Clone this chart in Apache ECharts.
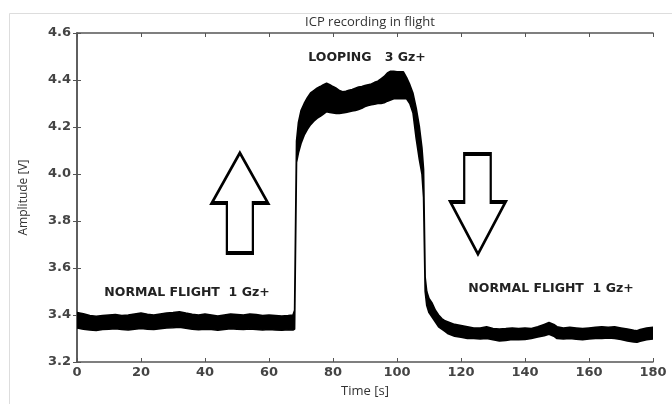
<!DOCTYPE html>
<html><head><meta charset="utf-8">
<script src="https://cdn.jsdelivr.net/npm/echarts@6/dist/echarts.min.js"></script>
<style>html,body{margin:0;padding:0;background:#fff}#c{width:672px;height:404px}</style>
</head><body><div id="c"></div>
<script>
// Time [s]
const timeS = [0,2,4,6,8,10,12,14,16,18,20,22,24,26,28,30,32,34,36,38,40,42,44,46,48,50,52,54,56,58,60,62,64,66,67.5,68,
68.6,69.2,70,71,72,73,74,75,76,77,78,79,80,81,82,83,84,85,86,87,88,89,90,91,92,93,94,95,96,97,98,99,100,101,102,103,104,105,106,107,107.8,108.3,
108.8,109.3,110,111,112,113,114,115,116,118,120,122,124,126,128,130,132,134,136,138,140,142,144,146,147.5,149,150,152,154,156,158,160,162,164,166,168,170,172,174,175,176,178,180];
// upper edge of the recorded band [V]
const upperV = [3.41,3.405,3.398,3.395,3.398,3.400,3.402,3.398,3.400,3.404,3.408,3.403,3.400,3.404,3.408,3.410,3.414,3.408,3.403,3.400,3.404,3.400,3.396,3.400,3.404,3.402,3.400,3.404,3.402,3.398,3.400,3.398,3.396,3.398,3.400,3.42,
4.14,4.22,4.27,4.30,4.325,4.345,4.355,4.365,4.372,4.38,4.386,4.38,4.372,4.365,4.355,4.35,4.352,4.356,4.36,4.365,4.37,4.372,4.376,4.38,4.383,4.39,4.395,4.405,4.415,4.43,4.437,4.437,4.435,4.435,4.435,4.41,4.38,4.343,4.28,4.20,4.11,4.02,
3.56,3.50,3.47,3.45,3.42,3.40,3.385,3.375,3.37,3.36,3.355,3.35,3.345,3.345,3.35,3.342,3.34,3.342,3.345,3.342,3.345,3.342,3.35,3.36,3.368,3.36,3.35,3.345,3.348,3.345,3.342,3.345,3.348,3.35,3.348,3.35,3.345,3.34,3.335,3.333,3.338,3.345,3.348];
// lower edge of the recorded band [V]
const lowerV = [3.345,3.340,3.336,3.334,3.338,3.340,3.342,3.338,3.336,3.340,3.343,3.340,3.338,3.342,3.345,3.346,3.348,3.344,3.340,3.337,3.340,3.338,3.335,3.338,3.342,3.340,3.338,3.341,3.338,3.336,3.338,3.336,3.335,3.337,3.336,3.34,
4.05,4.09,4.13,4.165,4.19,4.21,4.225,4.237,4.245,4.255,4.265,4.262,4.26,4.258,4.258,4.26,4.262,4.265,4.268,4.27,4.275,4.28,4.287,4.292,4.295,4.297,4.30,4.30,4.303,4.31,4.315,4.32,4.32,4.32,4.32,4.32,4.30,4.26,4.15,4.06,4.00,3.90,
3.50,3.44,3.41,3.39,3.37,3.35,3.34,3.33,3.32,3.31,3.305,3.30,3.30,3.298,3.30,3.295,3.29,3.292,3.296,3.295,3.296,3.30,3.306,3.312,3.318,3.31,3.30,3.298,3.30,3.297,3.295,3.298,3.30,3.30,3.302,3.30,3.296,3.29,3.285,3.284,3.288,3.295,3.298];
const xTicks = [0,20,40,60,80,100,120,140,160,180];
const yTicks = [3.2,3.4,3.6,3.8,4.0,4.2,4.4,4.6];

const bandData = timeS.map((t,i)=>[t, lowerV[i], upperV[i]]);

const upArrow = 'path://M28 0 L56 50 L41 50 L41 100 L15 100 L15 50 L0 50 Z';
const downArrow = 'path://M14 0 L41 0 L41 48 L56 48 L28 100 L0 48 L14 48 Z';

const axisCol = '#555';
const tickFont = {fontFamily:'DejaVu Sans', fontSize:13, fontWeight:'bold', color:'#444'};
const noteFont = {fontFamily:'DejaVu Sans', fontWeight:'bold', fontSize:12.5, fill:'#222', textAlign:'center', textVerticalAlign:'middle'};
const chart = echarts.init(document.getElementById('c'), null, {renderer:'canvas'});
chart.setOption({
  animation:false,
  backgroundColor:'#fff',
  grid:{left:77, right:19, top:33, bottom:42},
  title:{text:'ICP recording in flight', left:365, top:11, textAlign:'center',
    textStyle:{fontFamily:'Open Sans', fontSize:13, fontWeight:'normal', color:'#333'}},
  xAxis:[{type:'value', min:0, max:180, interval:20, position:'bottom',
    name:'Time [s]', nameLocation:'middle', nameGap:23,
    nameTextStyle:{fontFamily:'Open Sans', fontSize:13, color:'#333'},
    axisLine:{lineStyle:{color:axisCol, width:1.5}},
    axisTick:{inside:true, length:4, lineStyle:{color:axisCol}},
    axisLabel:Object.assign({margin:4, formatter:v=>String(v)}, tickFont),
    splitLine:{show:false}},
   {type:'value', min:0, max:180, interval:20, position:'top',
    axisLine:{lineStyle:{color:axisCol, width:1.5}},
    axisTick:{inside:true, length:4, lineStyle:{color:axisCol}},
    axisLabel:{show:false}, splitLine:{show:false}}],
  yAxis:[{type:'value', min:3.2, max:4.6, interval:0.2, position:'left',
    name:'Amplitude [V]', nameLocation:'middle', nameGap:47,
    nameTextStyle:{fontFamily:'Open Sans', fontSize:12, color:'#333'},
    axisLine:{show:true, lineStyle:{color:axisCol, width:1.5}},
    axisTick:{show:true, inside:true, length:4, lineStyle:{color:axisCol}},
    axisLabel:Object.assign({margin:6, formatter:v=>v.toFixed(1)}, tickFont),
    splitLine:{show:false}},
   {type:'value', min:3.2, max:4.6, interval:0.2, position:'right',
    axisLine:{show:true, lineStyle:{color:axisCol, width:1.5}},
    axisTick:{show:true, inside:true, length:4, lineStyle:{color:axisCol}},
    axisLabel:{show:false}, splitLine:{show:false}}],
  series:[
    {type:'custom', name:'ICP', data:bandData, silent:true, clip:true,
     encode:{x:0, y:[1,2]},
     renderItem:function(params, api){
       if (params.dataIndex !== 0) return null;
       const pts = [];
       for (let i=0;i<bandData.length;i++) pts.push(api.coord([bandData[i][0], bandData[i][2]]));
       for (let i=bandData.length-1;i>=0;i--) pts.push(api.coord([bandData[i][0], bandData[i][1]]));
       return {type:'polygon', shape:{points:pts},
         style:{fill:'#000', stroke:'#000', lineWidth:1.6, lineJoin:'round'}};
     }},
    {type:'scatter', name:'arrows', data:[], silent:true,
     markPoint:{silent:true, symbolKeepAspect:false,
       itemStyle:{color:'#fff', borderColor:'#000', borderWidth:3},
       label:{show:false},
       data:[{coord:[50.9,3.877], symbol:upArrow, symbolSize:[56,100]},
             {coord:[125.3,3.872], symbol:downArrow, symbolSize:[55,100]}]}}
  ],
  graphic:[
    {type:'rect', shape:{x:9.5, y:13.5, width:700, height:500}, style:{fill:'none', stroke:'#ddd', lineWidth:1}, z:-10},
    {type:'text', x:187, y:293, style:Object.assign({text:'NORMAL FLIGHT  1 Gz+'}, noteFont)},
    {type:'text', x:551, y:289, style:Object.assign({text:'NORMAL FLIGHT  1 Gz+'}, noteFont)},
    {type:'text', x:367, y:58, style:Object.assign({text:'LOOPING   3 Gz+'}, noteFont)}
  ]
});
</script></body></html>
